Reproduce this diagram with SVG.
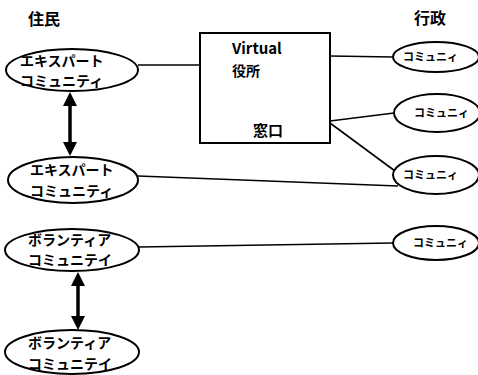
<svg xmlns="http://www.w3.org/2000/svg" width="478" height="375" viewBox="0 0 478 375">
<style>
.n{fill:#fff;stroke:#000;stroke-width:2}
.t{font-family:"Noto Sans CJK JP","Liberation Sans",sans-serif;font-weight:bold;fill:#000}
.l{stroke:#000;stroke-width:1.6;fill:none}
.a{stroke:#000;stroke-width:3.5;fill:none}
.h{fill:#000}
</style>
<rect width="478" height="375" fill="#fff"/>
<text class="t" x="28" y="25" font-size="16">住民</text>
<text class="t" x="414" y="24" font-size="16">行政</text>
<g id="connectors">
<line class="l" x1="138" y1="65" x2="200" y2="65"/>
<line class="l" x1="330" y1="56" x2="393" y2="57"/>
<line class="l" x1="330" y1="121" x2="394" y2="113"/>
<line class="l" x1="330" y1="123" x2="395" y2="171"/>
<line class="l" x1="138" y1="176" x2="398" y2="186"/>
<line class="l" x1="139" y1="247" x2="393" y2="243"/>
<line class="a" x1="70" y1="104" x2="70" y2="143"/>
<polygon class="h" points="70,92 63,106 77,106"/>
<polygon class="h" points="70,156 63,142 77,142"/>
<line class="a" x1="78" y1="284" x2="78" y2="318"/>
<polygon class="h" points="78,272 71,286 85,286"/>
<polygon class="h" points="78,330 71,316 85,316"/>
</g>
<g id="expert1">
<ellipse class="n" cx="72" cy="70" rx="66" ry="21"/>
<text class="t" x="20" y="66" font-size="14">エキスパート</text>
<text class="t" x="20" y="86" font-size="14">コミュニティ</text>
</g>
<g id="expert2">
<ellipse class="n" cx="73" cy="180" rx="65" ry="23"/>
<text class="t" x="30" y="175" font-size="14">エキスパート</text>
<text class="t" x="30" y="196" font-size="14">コミュニティ</text>
</g>
<g id="volunteer1">
<ellipse class="n" cx="72" cy="250" rx="67" ry="21"/>
<text class="t" x="28" y="245" font-size="14">ボランティア</text>
<text class="t" x="28" y="265" font-size="14">コミュニテイ</text>
</g>
<g id="volunteer2">
<ellipse class="n" cx="72" cy="352" rx="67" ry="22"/>
<text class="t" x="28" y="348" font-size="14">ボランティア</text>
<text class="t" x="28" y="369" font-size="14">コミュニテイ</text>
</g>
<g id="office">
<rect class="n" x="200" y="33" width="130" height="110"/>
<text class="t" x="232" y="54" font-size="15">Virtual</text>
<text class="t" x="232" y="76" font-size="14">役所</text>
<text class="t" x="253" y="136" font-size="15">窓口</text>
</g>
<g id="gov1">
<ellipse class="n" cx="436" cy="57" rx="43" ry="15"/>
<text class="t" x="403" y="61" font-size="11">コミュニィ</text>
</g>
<g id="gov2">
<ellipse class="n" cx="437" cy="113" rx="43" ry="19"/>
<text class="t" x="414" y="117" font-size="11">コミュニィ</text>
</g>
<g id="gov3">
<ellipse class="n" cx="436" cy="175" rx="43" ry="19"/>
<text class="t" x="403" y="179" font-size="11">コミュニィ</text>
</g>
<g id="gov4">
<ellipse class="n" cx="436" cy="243" rx="43" ry="17"/>
<text class="t" x="413" y="247" font-size="11">コミュニィ</text>
</g>
</svg>
